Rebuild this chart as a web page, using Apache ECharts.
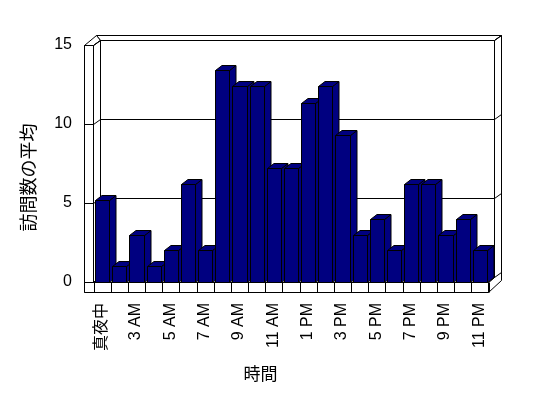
<!DOCTYPE html>
<html>
<head>
<meta charset="utf-8">
<script src="https://cdn.jsdelivr.net/npm/echarts@6/dist/echarts.min.js"></script>
<style>
  html, body { margin: 0; background: #fff; }
  #chart { width: 548px; height: 398px; }
</style>
</head>
<body>
<div id="chart"></div>
<script>
// hour categories (23 buckets, labels shown on every other one)
const hours = ['真夜中', '1 AM', '3 AM', '4 AM', '5 AM', '6 AM', '7 AM', '8 AM', '9 AM', '10 AM', '11 AM', '正午',
  '1 PM', '2 PM', '3 PM', '4 PM', '5 PM', '6 PM', '7 PM', '8 PM', '9 PM', '10 PM', '11 PM']
// average number of visits per hour
const visits = [5.2, 1, 3, 1, 2, 6.2, 2, 13.4, 12.4, 12.4, 7.2, 7.2, 11.3, 12.4, 9.3, 3, 4, 2, 6.2, 6.2, 3, 4, 2]
const yTicks = [0, 5, 10, 15]

const FONT = '"Liberation Sans", "Noto Sans CJK JP", sans-serif'
const BAR_COLOR = '#000080'
const px = v => Math.round(v) + 0.5

// draws the 3d box: walls, floor and back grid lines
function renderFrame(params, api) {
  const n = hours.length
  const band = api.size([1, 0])[0]
  const left = px(api.coord([0, 0])[0] - band / 2)
  const right = px(api.coord([n - 1, 0])[0] + band / 2)
  const y0 = px(api.coord([0, yTicks[0]])[1])
  const yTop = px(api.coord([0, yTicks[yTicks.length - 1]])[1])

  const wallOut = left - 9
  const floorBot = y0 + 10
  const bl = left + 7
  const br = right + 6
  const outR = right + 13
  const style = { fill: '#fff', stroke: '#000', lineWidth: 1 }
  const poly = pts => ({ type: 'polygon', shape: { points: pts }, style: style })
  const children = [
    // back wall top and left wall top
    poly([[wallOut + 12, yTop - 10], [outR, yTop - 10], [br, yTop - 5], [bl, yTop - 5]]),
    poly([[wallOut, yTop], [left, yTop], [bl, yTop - 5], [wallOut + 12, yTop - 10]]),
    // right end of back wall and floor
    poly([[br, yTop - 5], [outR, yTop - 10], [outR, y0 - 2], [right, floorBot], [right, y0], [br, y0 - 5]]),
    // back wall face
    poly([[bl, yTop - 5], [br, yTop - 5], [br, y0 - 5], [bl, y0 - 5]]),
    // left wall inner face
    poly([[left, yTop], [bl, yTop - 5], [bl, y0 - 5], [left, y0]]),
    // left wall front face
    poly([[wallOut, yTop], [left, yTop], [left, floorBot], [wallOut, floorBot]]),
    // floor top and front
    poly([[left, y0], [right, y0], [br, y0 - 5], [bl, y0 - 5]]),
    poly([[wallOut, y0], [right, y0], [right, floorBot], [wallOut, floorBot]])
  ]
  for (let i = 0; i <= n; i++) {
    const x = px(left + i * band)
    children.push({ type: 'line', shape: { x1: x, y1: y0, x2: x, y2: floorBot }, style: { stroke: '#000', lineWidth: 1 } })
  }
  yTicks.forEach(v => {
    const yf = px(api.coord([0, v])[1])
    children.push({
      type: 'polyline',
      shape: { points: [[wallOut, yf], [left, yf], [bl, yf - 5], [br, yf - 5], [outR, yf - 10]] },
      style: { stroke: '#000', lineWidth: 1, fill: null }
    })
  })
  return { type: 'group', children: children }
}

// draws one bar as a box: front, side and top faces
function renderBar(params, api) {
  const band = api.size([1, 0])[0]
  const c = api.coord([api.value(0), 0])
  const t = api.coord([api.value(0), api.value(1)])
  const x1 = px(c[0] - band / 2 + 2)
  const x2 = px(c[0] + band / 2 - 1)
  const yb = px(c[1])
  const yt = px(t[1])
  const dx = 6.5
  const dy = -5
  const style = { fill: BAR_COLOR, stroke: '#000', lineWidth: 1 }
  return {
    type: 'group',
    children: [
      { type: 'polygon', shape: { points: [[x2, yb], [x2 + dx, yb + dy], [x2 + dx, yt + dy], [x2, yt]] }, style: style },
      { type: 'polygon', shape: { points: [[x1, yt], [x2, yt], [x2 + dx, yt + dy], [x1 + dx, yt + dy]] }, style: style },
      { type: 'rect', shape: { x: x1, y: yt, width: x2 - x1, height: yb - yt }, style: style }
    ]
  }
}

const chart = echarts.init(document.getElementById('chart'))
chart.setOption({
  backgroundColor: '#fff',
  animation: false,
  textStyle: { fontFamily: FONT, color: '#000' },
  grid: { left: 93, right: 60, top: 45, bottom: 116 },
  xAxis: {
    type: 'category',
    data: hours,
    axisLine: { show: false },
    axisTick: { show: false },
    axisLabel: { interval: 1, rotate: 90, margin: 21, fontSize: 16, color: '#000', fontFamily: FONT },
    name: '時間',
    nameLocation: 'middle',
    nameGap: 85,
    nameTextStyle: { fontSize: 17, color: '#000', fontFamily: FONT, padding: [0, 60, 0, 0] }
  },
  yAxis: {
    type: 'value',
    min: 0,
    max: 15,
    interval: 5,
    axisLine: { show: false },
    axisTick: { show: false },
    splitLine: { show: false },
    axisLabel: { margin: 21, fontSize: 16, color: '#000', fontFamily: FONT },
    name: '訪問数の平均',
    nameLocation: 'middle',
    nameGap: 54,
    nameTextStyle: { fontSize: 18, color: '#000', fontFamily: FONT, padding: [0, 28, 0, 0] }
  },
  series: [
    {
      type: 'custom',
      z: 1,
      silent: true,
      clip: false,
      renderItem: renderFrame,
      data: [[0, 0]]
    },
    {
      type: 'custom',
      z: 2,
      clip: false,
      renderItem: renderBar,
      data: visits.map((v, i) => [i, v])
    }
  ]
})
</script>
</body>
</html>
